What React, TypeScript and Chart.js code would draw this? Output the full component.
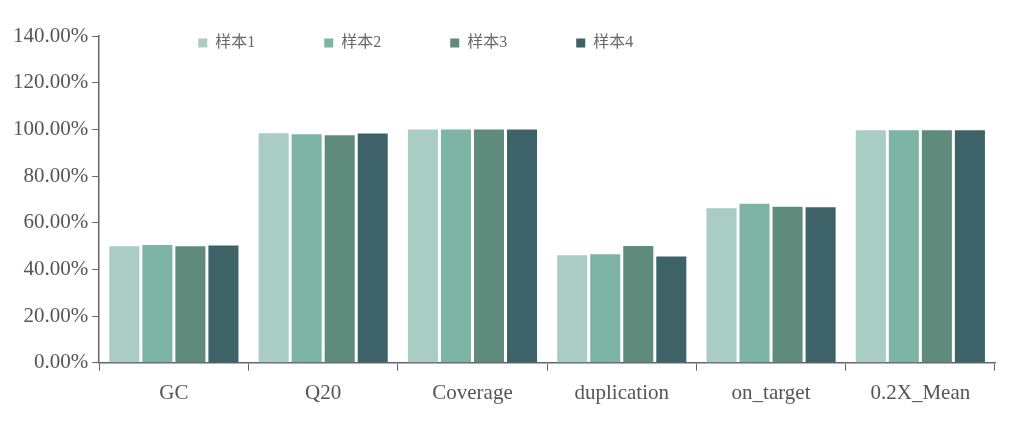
import React, { useEffect, useRef } from "react";
import { Chart, registerables } from "chart.js";

Chart.register(...registerables);

const categories = ["GC", "Q20", "Coverage", "duplication", "on_target", "0.2X_Mean"];
const seriesNames = ["样本1", "样本2", "样本3", "样本4"];
const sample1 = [49.9, 98.3, 99.9, 46.1, 66.2, 99.6];
const sample2 = [50.5, 97.9, 99.9, 46.5, 68.1, 99.6];
const sample3 = [49.9, 97.5, 99.9, 50.0, 66.9, 99.6];
const sample4 = [50.3, 98.2, 99.9, 45.5, 66.6, 99.6];
const colors = ["#a9cdc5", "#7db4a6", "#5f8b7c", "#3d6369"];
const yTicks = [0, 20, 40, 60, 80, 100, 120, 140];

const FONT = "'Liberation Serif', 'Times New Roman', 'Noto Sans CJK SC', serif";

const legendPlugin = {
  id: "customLegend",
  afterDraw(chart: any) {
    const { ctx, chartArea } = chart;
    ctx.save();
    ctx.font = `16px ${FONT}`;
    ctx.textBaseline = "middle";
    chart.data.datasets.forEach((ds: any, i: number) => {
      const x = chartArea.left + 99 + i * 126;
      const y = 43;
      ctx.fillStyle = ds.backgroundColor;
      ctx.fillRect(x, y - 4.5, 9, 9);
      ctx.fillStyle = "#666";
      ctx.fillText(ds.label, x + 17, y);
    });
    ctx.restore();
  },
};

export default function App() {
  const ref = useRef<HTMLCanvasElement | null>(null);
  useEffect(() => {
    if (!ref.current) return;
    const series = [sample1, sample2, sample3, sample4];
    const chart = new Chart(ref.current, {
      type: "bar",
      data: {
        labels: categories,
        datasets: series.map((d, i) => ({
          label: seriesNames[i],
          data: d,
          backgroundColor: colors[i],
          barPercentage: 0.91,
          categoryPercentage: 0.885,
        })),
      },
      options: {
        animation: false,
        responsive: false,
        devicePixelRatio: 1,
        layout: { padding: { left: 9, right: 29, top: 36, bottom: 10 } },
        plugins: { legend: { display: false }, tooltip: { enabled: false } },
        scales: {
          x: {
            grid: {
              offset: true,
              drawOnChartArea: false,
              drawTicks: true,
              tickLength: 8,
              color: "#666",
              tickColor: "#666",
            },
            border: { color: "#666", width: 1.5 },
            ticks: { color: "#555", font: { family: FONT, size: 21 }, padding: 10 },
          },
          y: {
            min: 0,
            max: 140,
            afterBuildTicks: (axis: any) => {
              axis.ticks = yTicks.map((v) => ({ value: v }));
            },
            grid: { drawOnChartArea: false, tickLength: 7, color: "#666", tickColor: "#666" },
            border: { color: "#666", width: 1.5 },
            ticks: {
              color: "#555",
              font: { family: FONT, size: 21 },
              padding: 4,
              callback: (v: any) => Number(v).toFixed(2) + "%",
            },
          },
        },
      },
      plugins: [legendPlugin],
    });
    return () => chart.destroy();
  }, []);
  return (
    <div style={{ position: "absolute", left: 0, top: 0, width: 1024, height: 426, background: "#fff" }}>
      <canvas ref={ref} width={1024} height={426} style={{ width: 1024, height: 426 }} />
    </div>
  );
}
